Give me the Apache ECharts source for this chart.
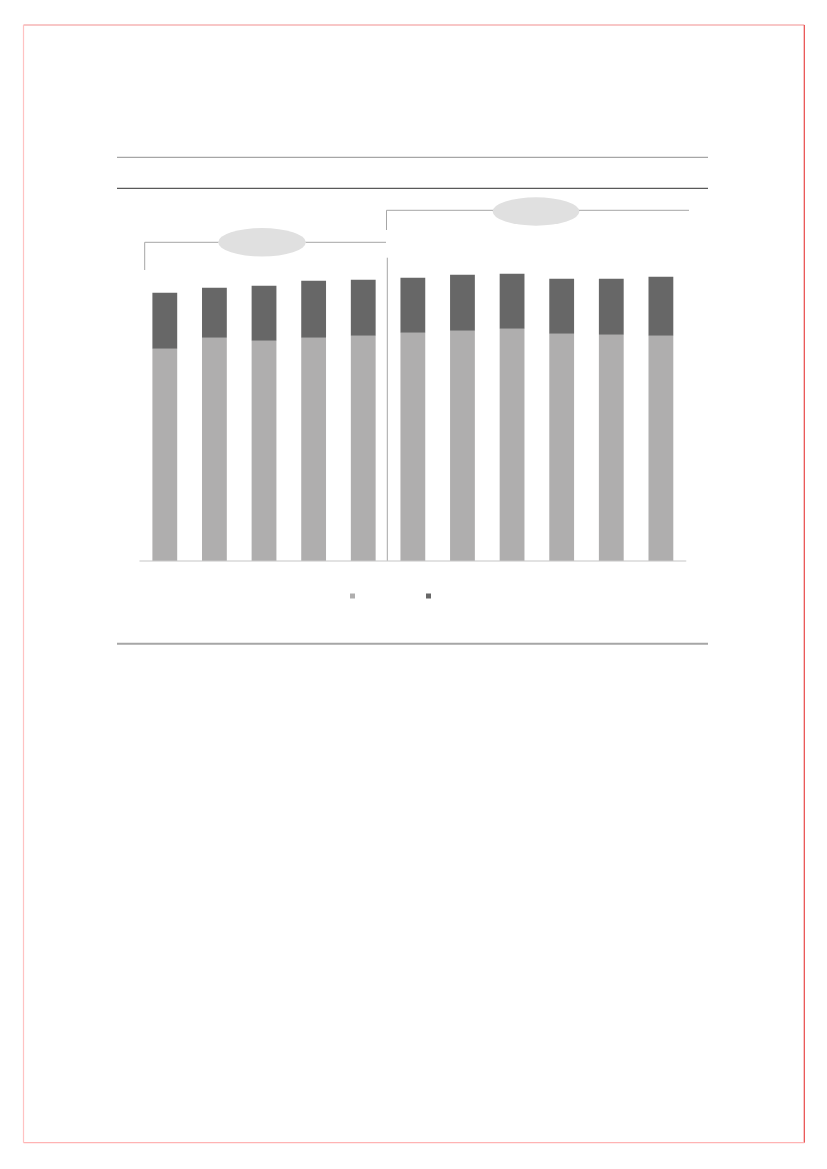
<!DOCTYPE html>
<html>
<head>
<meta charset="utf-8">
<script src="https://cdn.jsdelivr.net/npm/echarts@6/dist/echarts.min.js"></script>
<style>
html,body{margin:0;padding:0;background:#fff;}
#main{width:827px;height:1169px;}
</style>
</head>
<body>
<div id="main"></div>
<script>
var categories = ['1','2','3','4','5','6','7','8','9','10','11'];
var seriesNames = ['Series A', 'Series B'];
var lowerValues = [212, 223, 220, 223, 225, 228, 230, 232, 227, 226, 225];
var upperValues = [56, 50, 55, 57, 56, 55, 56, 55, 55, 56, 59];

var LIGHT = '#afaeae';
var DARK = '#676767';
var RULE = '#a6a6a6';

function seg(x1, y1, x2, y2, color, w, z) {
  return { type: 'line', silent: true, z: z || 1,
    shape: { x1: x1, y1: y1, x2: x2, y2: y2 },
    style: { stroke: color, lineWidth: w } };
}
function poly(points, color, w) {
  return { type: 'polyline', silent: true, z: 1,
    shape: { points: points },
    style: { stroke: color, lineWidth: w, fill: null } };
}
function oval(cx, cy, rx, ry) {
  return { type: 'circle', silent: true, z: 5, x: cx, y: cy,
    scaleX: rx / ry, scaleY: 1,
    shape: { cx: 0, cy: 0, r: ry },
    style: { fill: '#e0e0e0' } };
}

var chart = echarts.init(document.getElementById('main'), null, { renderer: 'canvas' });
chart.setOption({
  animation: false,
  backgroundColor: '#ffffff',
  grid: { left: 140, right: 141.3, top: 260.7, bottom: 608.3, containLabel: false },
  xAxis: {
    type: 'category',
    data: categories,
    axisLine: { show: true, lineStyle: { color: '#d9d9d9', width: 1.5 } },
    axisTick: { show: false },
    axisLabel: { show: false },
    splitLine: { show: false }
  },
  yAxis: {
    type: 'value', min: 0, max: 300,
    show: false,
    splitLine: { show: false }
  },
  legend: [
    { data: [seriesNames[0]], left: 350, top: 593.5, icon: 'rect', itemWidth: 5, itemHeight: 5,
      formatter: function () { return ''; }, textStyle: { fontSize: 10 }, padding: 0 },
    { data: [seriesNames[1]], left: 426, top: 593.5, icon: 'rect', itemWidth: 5, itemHeight: 5,
      formatter: function () { return ''; }, textStyle: { fontSize: 10 }, padding: 0 }
  ],
  series: [
    { name: seriesNames[0], type: 'bar', stack: 'total', data: lowerValues,
      barWidth: '50%', itemStyle: { color: LIGHT } },
    { name: seriesNames[1], type: 'bar', stack: 'total', data: upperValues,
      barWidth: '50%', itemStyle: { color: DARK } }
  ],
  graphic: [
    // page border
    seg(23.5, 25, 804.3, 25, '#f29090', 1.2),
    seg(804.3, 25, 804.3, 1142.7, '#e84848', 1.2),
    seg(23.5, 1142.7, 804.3, 1142.7, '#ffb3b3', 1.2),
    seg(23.5, 25, 23.5, 1142.7, '#ffc2c2', 1.2),
    // horizontal rules
    seg(117, 157.3, 708, 157.3, RULE, 1.3),
    seg(117, 188.3, 708, 188.3, '#595959', 1.3),
    seg(117, 643.7, 708, 643.7, RULE, 2),
    // brackets
    poly([[144.7, 270], [144.7, 242.3], [386, 242.3]], RULE, 1),
    poly([[386.5, 230], [386.5, 210.3], [689, 210.3]], RULE, 1),
    seg(387.3, 257.7, 387.3, 560.7, RULE, 1),
    oval(262, 242.3, 43.8, 14.2),
    oval(536, 211.5, 43.3, 14.2)
  ]
});
</script>
</body>
</html>
